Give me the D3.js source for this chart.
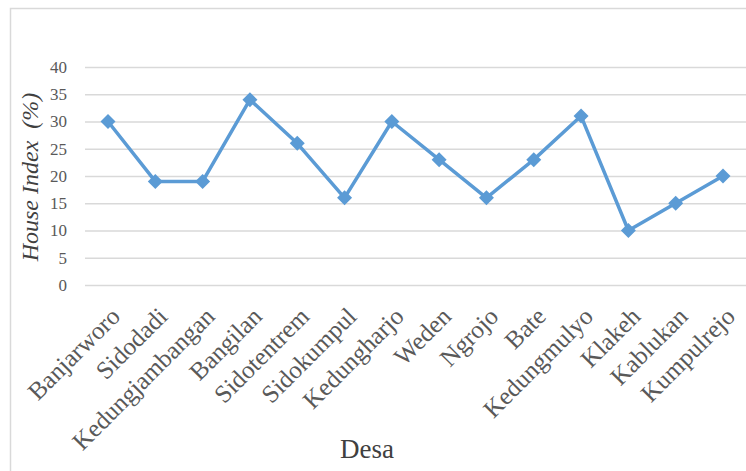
<!DOCTYPE html>
<html><head><meta charset="utf-8">
<script src="https://d3js.org/d3.v7.min.js"></script>
<style>body{margin:0;background:#fff}svg{display:block}</style>
</head><body>
<script>
const categories = ["Banjarworo","Sidodadi","Kedungjambangan","Bangilan","Sidotentrem","Sidokumpul","Kedungharjo","Weden","Ngrojo","Bate","Kedungmulyo","Klakeh","Kablukan","Kumpulrejo"];
const houseIndex = [30,19,19,34,26,16,30,23,16,23,31,10,15,20];
const yTicks = [0,5,10,15,20,25,30,35,40];
const xTitle = "Desa";
const yTitle = "House Index  (%)";

const W = 746, H = 471;
const svg = d3.select("body").append("svg").attr("width", W).attr("height", H);
const font = "'Liberation Serif', 'DejaVu Serif', serif";

svg.append("rect").attr("x", 10.5).attr("y", 8.5).attr("width", W + 20).attr("height", H + 20)
  .attr("fill", "none").attr("stroke", "#d9d9d9").attr("stroke-width", 1.5);

const y = d3.scaleLinear().domain([0, 40]).range([285, 67]);
const x = d3.scalePoint().domain(categories).range([108, 723]);
const plotL = 85, plotR = 747;

const gy = svg.append("g").attr("transform", `translate(${plotL},0)`)
  .call(d3.axisLeft(y).tickValues(yTicks).tickSize(-(plotR - plotL)).tickPadding(18));
gy.select(".domain").remove();
gy.selectAll(".tick line").attr("stroke", "#d9d9d9").attr("stroke-width", 1.5);
gy.selectAll(".tick text").attr("fill", "#595959").style("font-family", font).style("font-size", "17px");

const gx = svg.append("g").attr("transform", `translate(0,285)`)
  .call(d3.axisBottom(x).tickSize(0).tickPadding(0));
gx.select(".domain").remove();
gx.selectAll(".tick text")
  .attr("fill", "#595959").style("font-family", font).style("font-size", "25px")
  .attr("text-anchor", "end")
  .attr("transform", "translate(13,33) rotate(-45)")
  .attr("dy", 0).attr("y", 0).attr("x", 0);

const line = d3.line().x((d, i) => x(categories[i])).y(d => y(d));
svg.append("path").datum(houseIndex).attr("d", line)
  .attr("fill", "none").attr("stroke", "#5B9BD5").attr("stroke-width", 3.5).attr("stroke-linejoin", "round");

svg.selectAll(".mk").data(houseIndex).join("path").attr("class", "mk")
  .attr("transform", (d, i) => `translate(${x(categories[i])},${y(d)})`)
  .attr("d", "M0,-7.5L7.5,0L0,7.5L-7.5,0Z").attr("fill", "#5B9BD5");

svg.append("text").attr("x", 367).attr("y", 458).attr("text-anchor", "middle")
  .attr("fill", "#404040").style("font-family", font).style("font-size", "27px").text(xTitle);

svg.append("text").attr("transform", "translate(38,177) rotate(-90)").attr("text-anchor", "middle")
  .attr("fill", "#404040").style("font-family", font).style("font-style", "italic").style("font-size", "24px")
  .style("white-space", "pre").text(yTitle);
</script>
</body></html>
